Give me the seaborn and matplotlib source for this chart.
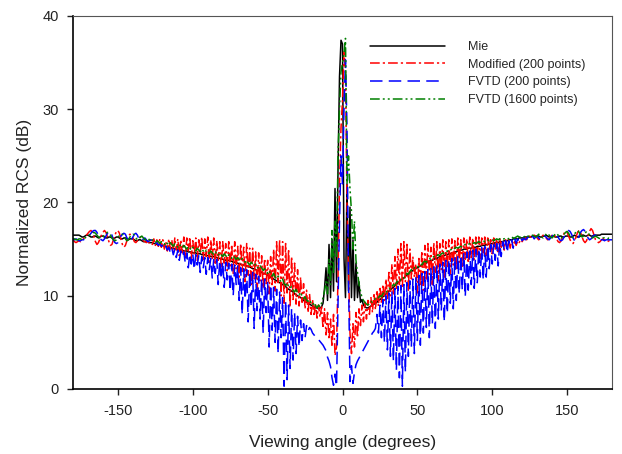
import numpy as np
import pandas as pd
import matplotlib
matplotlib.use("Agg")
import matplotlib.pyplot as plt
import seaborn as sns

# viewing angle grid (degrees)
angle = list(range(-180, 181))

mie = [
    16.5,16.5,16.5,16.5,16.5,16.4,16.3,16.3,16.4,16.5,
    16.5,16.4,16.3,16.3,16.4,16.4,16.3,16.2,16.3,16.4,
    16.4,16.3,16.2,16.2,16.3,16.3,16.2,16.1,16.2,16.3,
    16.3,16.2,16.1,16.1,16.2,16.2,16.1,16.0,16.1,16.1,
    16.1,16.0,15.9,15.9,16.0,16.0,15.9,15.8,15.8,15.9,
    15.8,15.7,15.7,15.7,15.6,15.6,15.5,15.5,15.5,15.4,
    15.4,15.3,15.3,15.3,15.2,15.2,15.1,15.1,15.0,15.0,
    15.0,14.9,14.9,14.9,14.8,14.8,14.8,14.7,14.7,14.7,
    14.6,14.6,14.6,14.5,14.5,14.5,14.4,14.4,14.4,14.3,
    14.3,14.3,14.2,14.2,14.2,14.1,14.1,14.0,14.0,14.0,
    13.9,13.9,13.8,13.8,13.8,13.7,13.7,13.6,13.6,13.5,
    13.5,13.4,13.4,13.3,13.3,13.2,13.2,13.1,13.1,13.0,
    12.9,12.9,12.8,12.7,12.7,12.6,12.5,12.4,12.4,12.3,
    12.2,12.1,12.0,11.9,11.8,11.7,11.6,11.5,11.4,11.3,
    11.2,11.1,11.0,10.8,10.7,10.6,10.5,10.4,10.2,10.1,
    10.0,9.9,9.8,9.7,9.5,9.4,9.3,9.2,9.1,9.0,
    8.9,8.8,8.7,8.7,8.6,8.7,8.8,9.2,10.8,13.0,
    9.5,15.5,9.8,16.0,10.5,21.5,11.5,23.5,33.5,37.4,
    37.0,14.0,9.8,22.0,10.5,19.5,9.8,16.0,9.5,13.5,
    9.8,11.5,9.3,9.6,9.0,8.8,8.7,8.7,8.8,8.9,
    9.0,9.1,9.2,9.3,9.5,9.6,9.7,9.9,10.0,10.2,
    10.3,10.5,10.6,10.8,10.9,11.1,11.2,11.4,11.5,11.7,
    11.8,11.9,12.1,12.2,12.3,12.5,12.6,12.7,12.8,12.9,
    13.0,13.1,13.2,13.3,13.4,13.5,13.5,13.6,13.7,13.8,
    13.8,13.9,14.0,14.0,14.1,14.2,14.2,14.3,14.3,14.4,
    14.4,14.5,14.5,14.6,14.6,14.7,14.7,14.8,14.8,14.9,
    14.9,15.0,15.0,15.0,15.1,15.1,15.1,15.2,15.2,15.2,
    15.3,15.3,15.3,15.4,15.4,15.4,15.5,15.5,15.5,15.6,
    15.6,15.6,15.7,15.7,15.7,15.8,15.8,15.8,15.9,15.9,
    15.9,16.0,16.0,16.0,16.1,16.1,16.1,16.1,16.2,16.2,
    16.2,16.2,16.3,16.3,16.3,16.3,16.3,16.4,16.4,16.4,
    16.4,16.4,16.3,16.3,16.4,16.4,16.5,16.4,16.3,16.3,
    16.4,16.4,16.3,16.3,16.3,16.4,16.4,16.3,16.3,16.4,
    16.4,16.4,16.3,16.3,16.4,16.5,16.4,16.3,16.3,16.4,
    16.5,16.5,16.4,16.4,16.5,16.5,16.4,16.4,16.5,16.5,
    16.5,16.5,16.5,16.6,16.6,16.6,16.6,16.6,16.6,16.6,
    16.6,
]

modified_200 = [
    16.0,15.8,15.7,15.8,15.9,15.8,15.9,16.1,16.3,16.5,
    16.7,16.9,17.0,16.8,16.3,15.8,15.5,15.7,16.1,16.5,
    16.8,17.0,16.8,16.3,15.8,15.4,15.5,16.0,16.5,16.9,
    17.0,16.7,16.1,15.5,15.2,15.4,15.9,16.4,16.6,16.5,
    16.2,15.8,15.7,15.9,16.2,16.3,16.1,15.9,15.8,15.7,
    15.9,15.6,16.0,15.5,16.1,15.4,16.0,15.3,16.1,15.2,
    16.0,15.0,15.8,14.8,16.1,15.0,16.0,14.6,16.2,14.9,
    16.1,14.3,16.0,14.6,16.3,14.2,16.2,14.8,16.3,14.0,
    15.9,14.4,16.2,13.8,16.0,14.5,16.3,13.9,16.1,14.2,
    16.3,13.6,16.0,14.0,16.2,13.3,15.9,13.8,15.8,13.0,
    15.8,13.5,15.6,12.7,15.8,13.2,15.5,12.4,15.8,12.9,
    15.3,12.0,15.6,12.6,15.2,11.5,15.6,12.2,15.1,11.2,
    15.1,11.8,14.7,10.6,14.6,11.6,14.3,10.8,14.0,11.3,
    13.8,10.2,14.2,11.0,15.0,10.5,15.8,11.4,16.0,10.0,
    15.8,9.2,15.6,10.3,15.0,8.8,14.2,9.6,13.5,9.1,
    12.8,8.9,12.0,9.3,11.3,8.6,10.6,8.2,10.2,8.0,
    9.6,7.8,9.2,7.6,9.0,7.7,8.8,6.5,8.6,5.8,
    8.2,5.3,7.5,4.5,8.0,3.6,4.5,12.0,22.0,28.0,
    31.0,36.3,34.0,20.0,13.0,6.0,3.8,7.0,4.5,8.2,
    5.5,8.6,6.8,9.0,7.2,9.3,7.5,9.5,8.0,9.8,
    8.2,10.3,8.5,10.6,8.9,11.0,9.2,11.2,9.5,11.8,
    9.7,12.5,10.0,13.4,10.2,14.2,10.8,15.0,11.2,15.6,
    10.8,15.8,11.5,15.7,10.6,15.0,11.8,14.2,12.0,13.4,
    10.3,14.0,11.0,14.8,10.6,15.4,11.8,15.6,12.3,15.2,
    11.2,15.7,12.5,15.8,11.6,15.6,12.8,16.0,12.0,15.8,
    13.0,16.0,12.3,16.1,13.3,15.9,12.8,16.2,13.6,16.0,
    13.0,16.2,13.9,16.1,13.5,16.3,14.1,16.2,13.8,16.3,
    14.4,16.3,14.0,16.2,14.6,16.3,14.3,16.2,14.8,16.2,
    14.5,16.2,15.0,16.1,14.7,16.1,15.2,16.0,14.9,16.0,
    15.3,16.0,15.1,15.9,15.5,15.8,15.4,15.9,15.7,16.0,
    15.8,16.1,16.2,16.0,16.3,16.4,16.2,16.3,16.5,16.4,
    16.2,16.0,16.1,16.3,16.5,16.4,16.2,16.0,16.1,16.3,
    16.5,16.6,16.4,16.1,15.8,15.7,15.9,16.3,16.7,16.9,
    16.8,16.4,16.0,15.7,15.6,15.9,16.3,16.8,17.0,16.8,
    16.3,15.9,15.7,15.9,16.4,16.9,17.2,17.0,16.5,16.0,
    15.8,15.7,15.8,16.0,16.1,16.0,15.8,15.8,15.9,16.0,
    16.0,
]

fvtd_200 = [
    16.0,16.0,16.1,16.0,15.9,15.9,16.0,16.0,16.1,16.2,
    16.3,16.5,16.7,16.9,17.0,17.0,16.8,16.4,16.1,16.0,
    15.9,16.1,16.4,16.7,16.9,16.9,16.5,16.0,15.7,15.6,
    15.7,16.0,16.4,16.6,16.7,16.6,16.2,15.9,15.8,16.0,
    16.3,16.6,16.7,16.5,16.1,15.9,15.9,16.1,16.2,16.0,
    15.8,15.9,16.0,15.8,15.5,15.6,15.7,15.4,15.6,15.3,
    15.4,15.0,15.3,14.9,15.2,14.6,15.1,14.4,15.0,14.1,
    14.9,13.8,14.8,14.2,14.7,13.5,14.6,13.0,14.5,13.4,
    14.5,12.8,14.4,13.3,14.3,12.5,14.2,13.0,14.1,12.3,
    14.1,12.8,14.0,11.9,13.9,12.4,13.9,11.2,13.8,11.8,
    13.7,10.9,13.6,11.7,13.5,10.5,13.4,10.0,13.3,11.2,
    13.2,9.5,13.0,8.0,12.9,9.6,12.8,7.2,12.6,8.8,
    12.5,6.5,12.3,8.4,12.1,7.5,11.9,6.0,11.8,8.2,
    11.5,4.5,11.2,6.3,10.9,5.0,10.7,3.8,10.4,5.5,
    9.8,0.3,9.5,1.0,9.0,2.2,8.6,3.1,8.2,3.8,
    7.8,4.5,7.4,5.2,7.0,5.5,6.8,6.2,6.6,6.4,
    6.0,5.8,5.6,5.5,5.3,5.1,4.9,4.7,4.4,4.1,
    3.4,3.0,2.4,1.2,0.4,1.6,0.3,9.0,18.0,25.0,
    22.0,30.0,35.3,28.0,12.0,0.8,2.5,0.6,1.8,2.6,
    3.0,3.3,3.6,3.9,4.2,4.5,4.8,5.1,5.4,5.7,
    6.0,6.2,6.5,8.0,6.0,9.0,5.5,9.6,5.0,10.0,
    4.2,10.3,3.5,10.5,3.0,10.8,2.0,11.0,1.2,11.1,
    0.3,11.2,1.8,11.4,3.5,11.6,4.5,11.8,3.8,12.0,
    5.2,12.2,4.7,12.4,6.0,12.6,6.6,12.8,5.5,13.0,
    7.0,13.1,6.5,13.3,7.5,13.4,8.4,13.6,7.2,13.8,
    8.1,13.9,9.2,14.0,8.6,14.2,9.5,14.3,10.2,14.4,
    10.6,14.5,9.9,14.7,10.6,14.8,11.2,14.9,10.8,15.0,
    11.4,15.1,12.0,15.2,11.7,15.3,12.0,15.4,12.9,15.5,
    13.4,15.5,13.8,15.6,13.2,15.7,14.2,15.8,14.9,15.9,
    14.6,15.9,15.4,16.0,15.1,16.1,15.6,16.1,15.8,16.2,
    15.9,16.2,16.0,16.1,16.3,16.0,16.2,16.4,16.1,16.3,
    16.4,16.2,16.0,16.1,16.3,16.4,16.3,16.1,16.0,16.2,
    16.4,16.6,16.7,16.6,16.3,16.0,15.9,16.0,16.3,16.6,
    16.8,17.0,16.9,16.6,16.2,15.9,15.8,16.0,16.4,16.8,
    17.0,17.1,16.9,16.5,16.2,16.0,16.1,16.3,16.5,16.5,
    16.3,16.1,16.0,16.0,16.0,15.9,16.0,16.0,16.0,16.0,
    16.0,
]

fvtd_1600 = [
    16.1,16.1,16.0,16.0,16.1,16.1,16.0,16.1,16.2,16.3,
    16.4,16.5,16.6,16.7,16.8,16.7,16.5,16.3,16.2,16.2,
    16.3,16.5,16.7,16.8,16.7,16.5,16.2,16.0,15.9,16.0,
    16.2,16.5,16.6,16.6,16.4,16.1,15.9,16.0,16.3,16.5,
    16.6,16.5,16.2,16.0,16.1,16.3,16.4,16.2,16.0,16.1,
    16.2,16.0,15.8,16.0,15.9,15.7,15.9,15.8,15.6,15.8,
    15.7,15.5,15.8,15.6,15.4,15.7,15.5,15.3,15.6,15.4,
    15.2,15.5,15.3,15.1,15.4,15.2,15.0,15.3,15.1,14.9,
    15.2,15.0,14.8,15.1,14.9,14.7,15.0,14.8,14.6,14.9,
    14.7,14.5,14.8,14.6,14.4,14.7,14.5,14.3,14.6,14.4,
    14.2,14.5,14.3,14.1,14.4,14.2,14.0,14.3,14.1,13.9,
    14.1,13.9,13.7,14.0,13.8,13.6,13.8,13.5,13.3,13.6,
    13.4,13.2,13.4,13.1,12.9,13.2,13.0,12.7,12.9,12.6,
    12.4,12.7,12.3,12.1,12.4,12.0,11.8,12.1,11.7,11.5,
    11.8,11.3,11.1,11.4,11.0,10.8,11.0,10.6,10.4,10.7,
    10.3,10.1,10.4,9.9,9.7,9.9,9.5,9.4,9.6,9.2,
    9.0,9.3,8.9,8.7,9.0,8.8,9.2,9.8,10.5,11.5,
    10.2,14.0,11.2,17.0,12.5,18.0,14.0,25.0,30.0,34.0,
    35.0,36.0,37.6,22.0,25.0,21.5,19.0,15.0,18.0,13.8,
    12.5,11.3,10.5,9.8,9.5,9.3,9.1,9.0,9.2,9.4,
    9.3,9.5,9.7,9.6,9.8,10.0,9.9,10.2,10.4,10.3,
    10.6,10.8,10.7,11.0,11.2,11.1,11.4,11.6,11.5,11.8,
    12.0,11.9,12.2,12.4,12.3,12.6,12.8,12.7,13.0,13.1,
    13.0,13.3,13.4,13.3,13.6,13.7,13.6,13.9,14.0,13.9,
    14.1,14.2,14.1,14.3,14.4,14.3,14.5,14.6,14.5,14.7,
    14.8,14.7,14.9,15.0,14.9,15.1,15.2,15.1,15.2,15.3,
    15.2,15.4,15.5,15.4,15.5,15.6,15.5,15.6,15.7,15.6,
    15.7,15.8,15.7,15.8,15.9,15.8,15.9,16.0,15.9,16.0,
    16.0,15.9,16.0,16.1,16.0,16.1,16.2,16.1,16.1,16.2,
    16.2,16.1,16.2,16.3,16.2,16.2,16.3,16.4,16.3,16.3,
    16.4,16.3,16.4,16.5,16.4,16.3,16.4,16.5,16.4,16.3,
    16.4,16.6,16.5,16.3,16.2,16.4,16.6,16.7,16.5,16.3,
    16.2,16.4,16.6,16.7,16.5,16.3,16.2,16.3,16.6,16.8,
    16.9,16.7,16.4,16.2,16.3,16.6,16.9,17.0,16.8,16.5,
    16.3,16.4,16.7,16.9,16.8,16.5,16.3,16.2,16.3,16.4,
    16.3,16.2,16.1,16.1,16.2,16.2,16.1,16.1,16.2,16.2,
    16.2,
]

series_names = ["Mie", "Modified (200 points)", "FVTD (200 points)", "FVTD (1600 points)"]
x_ticks = [-150, -100, -50, 0, 50, 100, 150]
y_ticks = [0, 10, 20, 30, 40]

sns.set_style("ticks")
plt.rcParams["font.family"] = ["Liberation Sans", "DejaVu Sans"]
plt.rcParams["lines.scale_dashes"] = False
plt.rcParams["axes.unicode_minus"] = False

fig = plt.figure(figsize=(6.22, 4.54), dpi=100)
ax = fig.add_axes([73 / 622, 1 - 389 / 454, (612 - 73) / 622, (389 - 16) / 454])

df = pd.DataFrame({"angle": angle, "Mie": mie, "Modified (200 points)": modified_200,
                   "FVTD (200 points)": fvtd_200, "FVTD (1600 points)": fvtd_1600})

styles = {
    "Mie": dict(color="black", linestyle="-"),
    "Modified (200 points)": dict(color="#ff0000", linestyle=(0, (7, 2.2, 1.6, 2.2))),
    "FVTD (200 points)": dict(color="#0000ff", linestyle=(0, (9, 4.5))),
    "FVTD (1600 points)": dict(color="#008000", linestyle=(0, (7, 2.2, 1.4, 2.2, 1.4, 2.2))),
}

for name in series_names:
    sns.lineplot(data=df, x="angle", y=name, ax=ax, lw=1.1, label=name,
                 **styles[name])

ax.set_xlim(-180, 180)
ax.set_ylim(0, 40)
ax.set_xticks(x_ticks)
ax.set_yticks(y_ticks)
ax.set_xlabel("Viewing angle (degrees)", fontsize=12.5, color="#222222", labelpad=12)
ax.set_ylabel("Normalized RCS (dB)", fontsize=12.5, color="#222222", labelpad=8)
ax.tick_params(axis="both", direction="out", length=4, width=1, labelsize=10.5,
               colors="#222222", top=False, right=False)
ax.tick_params(axis="x", pad=7)
ax.tick_params(axis="y", pad=6)

for side in ["left", "bottom"]:
    ax.spines[side].set_linewidth(1.2)
    ax.spines[side].set_color("black")
for side in ["top", "right"]:
    ax.spines[side].set_visible(True)
    ax.spines[side].set_linewidth(0.8)
    ax.spines[side].set_color("#555555")

handles, labels = ax.get_legend_handles_labels()
leg = ax.legend(handles, labels, loc="upper left",
                bbox_to_anchor=(370 / 622, 1 - 41 / 454), bbox_transform=fig.transFigure,
                frameon=False, fontsize=9, handlelength=6.0, handletextpad=1.85,
                labelspacing=0.45, borderpad=0, borderaxespad=0)
for line in leg.get_lines():
    line.set_linewidth(1.1)

fig.savefig("out.png", dpi=100)
